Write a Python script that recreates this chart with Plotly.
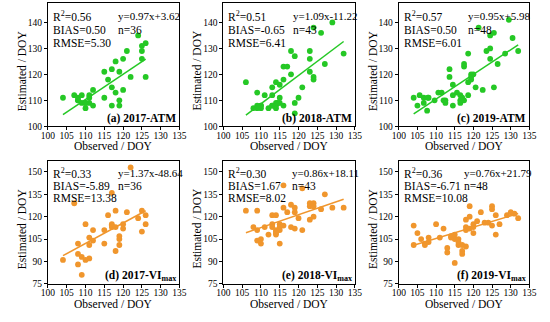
import plotly.graph_objects as go

# ---------------- data ----------------
obs_a = [104,107,108,108,109,109,110,110,111,111,111,112,112,115,115,116,117,117,117,118,118,119,119,119,120,120,121,122,124,125,125,125,126,126,108,110]
est_a = [111,112,111,110,112,109,109,107,109,111,112,108,114,111,121,118,115,122,108,125,113,121,110,108,114,126,129,119,135,131,129,126,132,119,110,109]

obs_b = [106,109,108,109,109,110,110,111,112,113,113,113,114,114,114,114,114.5,115,115,115,116,116,116,117,118,118,119,119,119,120,121,123,123,123,124,124,124,126,129,127,132,110,113]
est_b = [117,113,107,108,107,108,107,112,107,115,112,108,117,109,108,107,109,111,116,109,108,118,123,123,129,120,127,109,105,111,115,129,126,121,119,118,138,136,140,124,128,108,108]

obs_c = [104,105,105.6,106.7,106.7,107.8,107.6,109.6,110.6,111.5,112.5,112.5,113.6,113.6,114.5,114.5,114.5,115.6,116.5,116.5,116.5,117.5,117.5,117.5,118.6,118.6,118.6,119.4,119.4,120.6,122.5,121.4,123.5,124.5,124.5,124.5,125.5,125.5,126.5,128.5,129.5,130.5,132,119.4,108,112,117,120]
est_c = [111,108,112,111,109,111,106,110,113,113,110,109,119,122,116,112,108,113,112,110,109,110,124,123,128,117,112,120,118,115,114,138,129,130,126,135,136,115,124,128,141,134,129,119,111,110,111,120]

obs_d = [104,107,108,108,108,109,109,110,110,111,111,111,112,112,115,115,116,117,117,117,117,118,118,118,119,119,119,120,120,121,122,124,125,125,126,126]
est_d = [91,129,102,95,88,81,93,115,91,92,106,101,111,104,102,111,121,114,113,115,136,113,124,97,107,105,101,115,112,123,153,119,124,110,121,115]

obs_e = [106,108,109,109,109,110,110,111,112,113,113,113,114,114,114,114,115,115,115,115,116,116,116,117,118,118,119,119,119,120,121,121,123,123,123,124,124,124,126,127,129,132,114]
est_e = [124,113,124,111,104,105,102,113,108,121,115,113,121,111,110,108,115,113,102,111,141,126,114,123,128,113,126,123,112,119,139,111,118,129,127,129,127,120,125,135,126,126,109]

obs_f = [104,104,105,106,107,107,108,108,110,111,112,113,113,114,115,115,115,116,116,116,117,117,118,118,118,119,119,120,120,120,121,122,123,124,125,125,125,126,126,127,129,130,131,132,118,119,117,114]
est_f = [114,101,109,105,102,101,106,103,115,106,112,99,96,107,108,105,89,105,101,103,97,95,100,118,111,127,120,115,109,113,117,123,116,116,127,125,114,108,121,115,121,123,122,119,113,112,101,106]

slopes = [0.97, 1.09, 0.95, 1.37, 0.86, 0.76]
intercepts = [3.62, -11.22, 5.98, -48.64, 18.11, 21.79]
r2_labels = ["0.56", "0.51", "0.57", "0.33", "0.30", "0.36"]
bias_labels = ["0.50", "-0.65", "0.50", "-5.89", "1.67", "-6.71"]
rmse_labels = ["5.30", "6.41", "6.01", "13.38", "8.02", "10.08"]
eq_labels = ["y=0.97x+3.62", "y=1.09x-11.22", "y=0.95x+5.98", "y=1.37x-48.64", "y=0.86x+18.11", "y=0.76x+21.79"]
n_labels = ["n=36", "n=43", "n=48", "n=36", "n=43", "n=48"]
panel_labels = ["(a) 2017-ATM", "(b) 2018-ATM", "(c) 2019-ATM",
                "(d) 2017-VI<sub>max</sub>", "(e) 2018-VI<sub>max</sub>", "(f) 2019-VI<sub>max</sub>"]

obs_all = [obs_a, obs_b, obs_c, obs_d, obs_e, obs_f]
est_all = [est_a, est_b, est_c, est_d, est_e, est_f]

x_ticks = [100, 105, 110, 115, 120, 125, 130, 135]
y_ticks_top = [100, 110, 120, 130, 140]
y_ticks_bottom = [75, 90, 105, 120, 135, 150]

# ---------------- layout ----------------
W, H = 550, 322
FONT = "Liberation Serif"
GREEN = "#25C825"
ORANGE = "#F0962D"

col_px = [(42, 177), (222, 357), (402, 536)]
row_px = [(3, 128.3), (164, 288.3)]
eq_offsets = [70, 69, 70, 70, 68, 65]

fig = go.Figure()
annotations = []

for i in range(6):
    r, c = divmod(i, 3)
    k = i + 1
    xa = "x" if k == 1 else f"x{k}"
    ya = "y" if k == 1 else f"y{k}"
    color = GREEN if r == 0 else ORANGE
    xs, ys = obs_all[i], est_all[i]

    fig.add_trace(go.Scatter(x=xs, y=ys, mode="markers", xaxis=xa, yaxis=ya,
                             marker=dict(color=color, size=5.8, line=dict(width=0)),
                             showlegend=False, hoverinfo="skip"))
    x0, x1 = min(xs), max(xs)
    fig.add_trace(go.Scatter(x=[x0, x1],
                             y=[slopes[i] * x0 + intercepts[i], slopes[i] * x1 + intercepts[i]],
                             mode="lines", xaxis=xa, yaxis=ya,
                             line=dict(color=color, width=1.5),
                             showlegend=False, hoverinfo="skip"))

    xd = [col_px[c][0] / W, col_px[c][1] / W]
    yd = [1 - row_px[r][1] / H, 1 - row_px[r][0] / H]
    axis_common = dict(showline=True, mirror=True, linecolor="black", linewidth=1,
                       ticks="outside", ticklen=3, tickwidth=1, tickcolor="black",
                       showgrid=False, zeroline=False,
                       tickfont=dict(family=FONT, size=9.5, color="black"))
    fig.layout[f"xaxis{k if k > 1 else ''}"] = dict(
        domain=xd, range=[100, 135], tickvals=x_ticks, anchor=ya,
        ticklabelstandoff=-3, **axis_common)
    if r == 0:
        yr, yt = [100, 147.5], y_ticks_top
    else:
        yr, yt = [75, 157], y_ticks_bottom
    fig.layout[f"yaxis{k if k > 1 else ''}"] = dict(
        domain=yd, range=yr, tickvals=yt, anchor=xa, **axis_common)

    xdom = f"{xa} domain"
    ydom = f"{ya} domain"
    ph = row_px[r][1] - row_px[r][0]
    line_ys = [13, 27, 40.5] if r == 0 else [11.5, 25, 37.5]
    stat_texts = [f"R<sup>2</sup>={r2_labels[i]}", f"BIAS={bias_labels[i]}", f"RMSE={rmse_labels[i]}"]
    for t, ly in zip(stat_texts, line_ys):
        annotations.append(dict(xref=xdom, yref=ydom, x=3 / 135, y=1 - ly / ph,
                                text=t, showarrow=False, xanchor="left", yanchor="middle",
                                font=dict(family=FONT, size=11.5, color="black")))
    ex = eq_offsets[i] / 135
    annotations.append(dict(xref=xdom, yref=ydom, x=ex, y=1 - line_ys[0] / ph,
                            text=eq_labels[i], showarrow=False, xanchor="left", yanchor="middle",
                            font=dict(family=FONT, size=11, color="black")))
    annotations.append(dict(xref=xdom, yref=ydom, x=ex, y=1 - line_ys[1] / ph,
                            text=n_labels[i], showarrow=False, xanchor="left", yanchor="middle",
                            font=dict(family=FONT, size=11.5, color="black")))
    annotations.append(dict(xref=xdom, yref=ydom, x=0.99, y=0.0, yshift=-1,
                            text=f"<b>{panel_labels[i]}</b>", showarrow=False,
                            xanchor="right", yanchor="bottom",
                            font=dict(family=FONT, size=11.5, color="black")))
    # axis titles
    cx_px = (col_px[c][0] + col_px[c][1]) / 2
    annotations.append(dict(xref="paper", yref="paper", x=cx_px / W,
                            y=1 - (row_px[r][1] + 20) / H,
                            text="Observed / DOY", showarrow=False,
                            xanchor="center", yanchor="middle",
                            font=dict(family=FONT, size=11.5, color="black")))
    annotations.append(dict(xref="paper", yref="paper", x=(col_px[c][0] - 27) / W,
                            y=1 - ((row_px[r][0] + row_px[r][1]) / 2 + 6) / H,
                            text="Estimated / DOY", showarrow=False, textangle=-90,
                            xanchor="center", yanchor="middle",
                            font=dict(family=FONT, size=11.5, color="black")))

fig.update_layout(width=W, height=H, margin=dict(l=0, r=0, t=0, b=0),
                  paper_bgcolor="white", plot_bgcolor="white",
                  annotations=annotations, showlegend=False)

fig.write_html("out.html", config={"displayModeBar": False},
               post_script="document.body.style.margin='0px';")
